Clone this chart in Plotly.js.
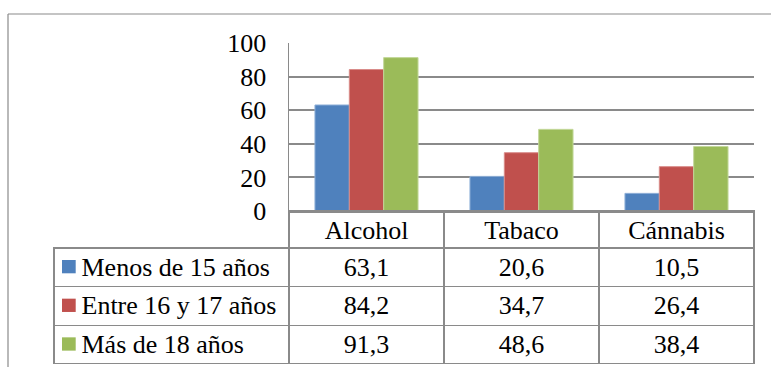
<!DOCTYPE html>
<html>
<head>
<meta charset="utf-8">
<script src="https://cdn.plot.ly/plotly-3.0.1.min.js"></script>
<style>html,body{margin:0;padding:0;background:#fff;}#chart{width:771px;height:367px;}</style>
</head>
<body>
<div id="chart"></div>
<script>
const categories = ['Alcohol', 'Tabaco', 'Cánnabis'];
const seriesNames = ['Menos de 15 años', 'Entre 16 y 17 años', 'Más de 18 años'];
const menos15 = [63.1, 20.6, 10.5];
const entre16y17 = [84.2, 34.7, 26.4];
const mas18 = [91.3, 48.6, 38.4];
const yTicks = [0, 20, 40, 60, 80, 100];

const seriesValues = [menos15, entre16y17, mas18];
const colors = ['#4F81BD', '#C0504D', '#9BBB59'];
const edge = ['#8fb0d8', '#d98c8a', '#c3d89a'];
const serif = 'Liberation Serif';
const gridCol = '#8a8a8a';
const FS = 26;

// layout geometry (pixels) -> paper helpers
const W = 771, H = 367, ML = 54, MR = 17, MT = 43, MB = 3;
const PW = W - ML - MR, PH = H - MT - MB;
const px = x => (x - ML) / PW;
const py = y => (H - MB - y) / PH;
const axisBottom = 211, headerH = 37, rowH = 38.67;

const fmt = v => v.toFixed(1).replace('.', ',');

const traces = seriesValues.map((vals, i) => ({
  type: 'bar',
  name: seriesNames[i],
  x: categories,
  y: vals,
  marker: {color: colors[i], line: {color: edge[i], width: 1}},
  showlegend: false,
  hoverinfo: 'skip'
}));

// data table (non-breaking spaces keep each label on one line)
const NB = '\u00a0';
const labelCol = seriesNames.map(n => NB + NB + NB + n.split(' ').join(NB));
const valueCols = categories.map((c, j) => seriesValues.map(s => fmt(s[j])));

traces.push({
  type: 'table',
  domain: {x: [0, 1], y: [0, py(axisBottom)]},
  columnwidth: [235, 155, 155, 155],
  columnorder: [0, 1, 2, 3],
  header: {
    values: [''].concat(categories),
    align: ['left', 'center', 'center', 'center'],
    height: headerH,
    font: {family: serif, size: FS, color: '#000'},
    fill: {color: 'rgba(0,0,0,0)'},
    line: {color: ['rgba(0,0,0,0)', gridCol, gridCol, gridCol], width: 1.5}
  },
  cells: {
    values: [labelCol].concat(valueCols),
    align: ['left', 'center', 'center', 'center'],
    height: rowH,
    font: {family: serif, size: FS, color: '#000'},
    fill: {color: 'rgba(0,0,0,0)'},
    line: {color: gridCol, width: 1.5}
  }
});

// legend keys inside the data table
const keyShapes = colors.map((c, i) => {
  const top = axisBottom + headerH + i * rowH;
  return {type: 'rect', xref: 'paper', yref: 'paper', layer: 'above',
    x0: px(62), x1: px(75.7), y0: py(top + 12), y1: py(top + 25.3),
    fillcolor: c, line: {width: 0}};
});

const layout = {
  width: W,
  height: H,
  margin: {l: ML, r: MR, t: MT, b: MB, pad: 0},
  paper_bgcolor: '#fff',
  plot_bgcolor: '#fff',
  barmode: 'group',
  bargap: 0.335,
  bargroupgap: 0,
  font: {family: serif, size: FS, color: '#000'},
  xaxis: {
    domain: [px(289), 1],
    type: 'category',
    range: [-0.5, 2.5],
    showticklabels: false,
    ticks: '',
    showgrid: false,
    zeroline: false,
    showline: true,
    linecolor: gridCol,
    linewidth: 1.5,
    fixedrange: true
  },
  yaxis: {
    domain: [py(axisBottom), 1],
    range: [0, 100],
    tickvals: yTicks,
    ticktext: yTicks.map(String),
    ticks: '',
    ticklabelstandoff: 16,
    showgrid: true,
    gridcolor: gridCol,
    gridwidth: 2,
    zeroline: false,
    showline: true,
    linecolor: gridCol,
    linewidth: 1.5,
    tickfont: {family: serif, size: FS, color: '#000'},
    fixedrange: true
  },
  shapes: [
    // outer chart frame (top and left edges)
    {type: 'line', xref: 'paper', yref: 'paper', x0: px(8), x1: px(775), y0: py(14), y1: py(14),
     line: {color: gridCol, width: 1.2}},
    {type: 'line', xref: 'paper', yref: 'paper', x0: px(8), x1: px(8), y0: py(14), y1: py(372),
     line: {color: gridCol, width: 1.2}}
  ].concat(keyShapes)
};

Plotly.newPlot('chart', traces, layout, {displayModeBar: false, staticPlot: true});
</script>
</body>
</html>
